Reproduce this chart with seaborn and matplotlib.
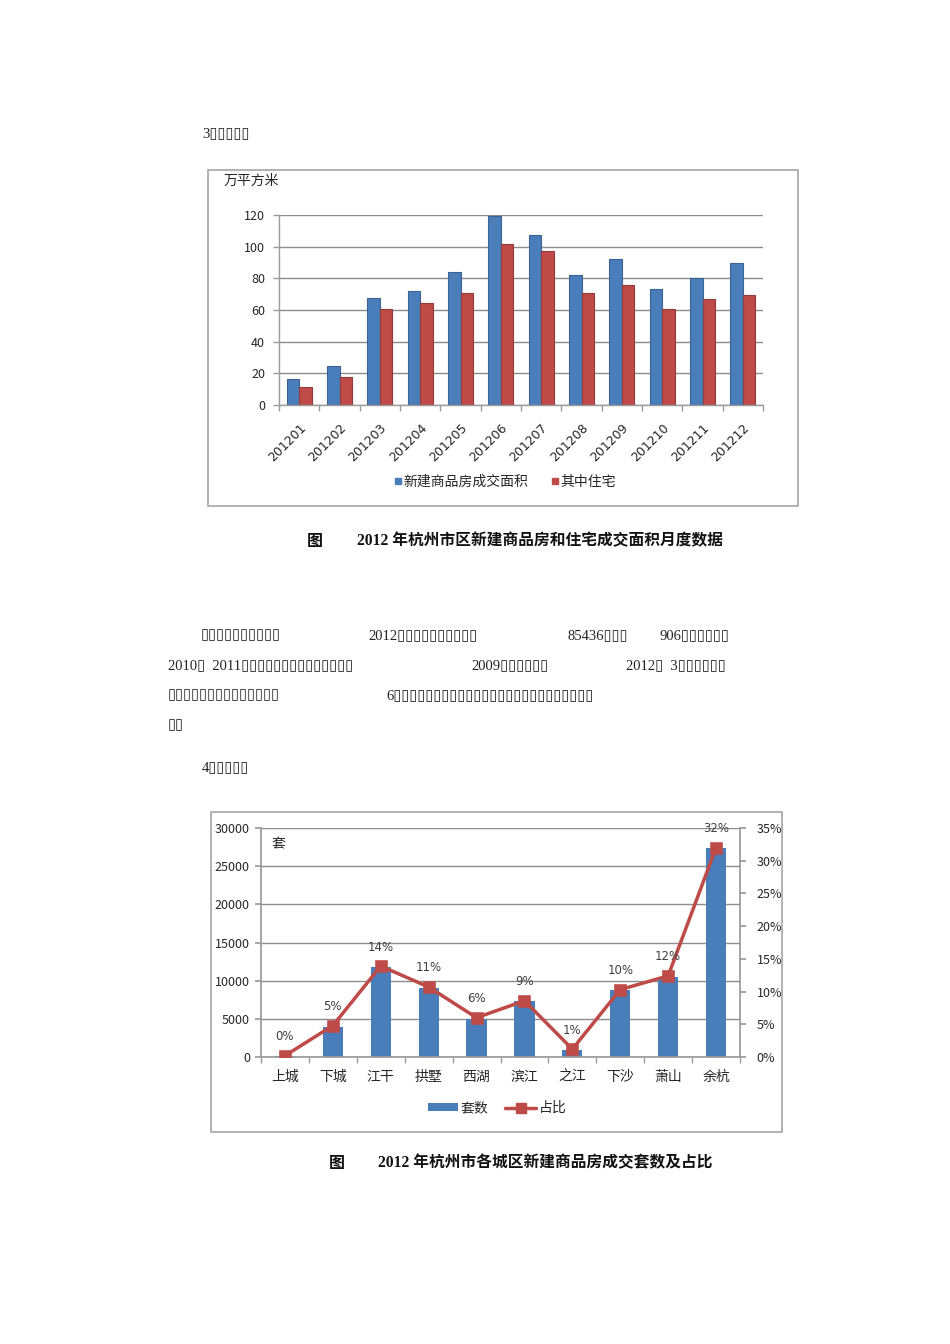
import numpy as np
import pandas as pd
import matplotlib
matplotlib.use('Agg')
import matplotlib.pyplot as plt
import seaborn as sns
from matplotlib.patches import Rectangle, Patch
from matplotlib.lines import Line2D

# ---------------- data ----------------
months = ['201201', '201202', '201203', '201204', '201205', '201206',
          '201207', '201208', '201209', '201210', '201211', '201212']
total_area = [16.5, 24.5, 67.5, 72, 84, 119.5, 107.5, 82, 92, 73, 80, 90]
res_area = [11.5, 17.5, 60.5, 64.5, 70.5, 101.5, 97, 71, 76, 60.5, 67, 69.5]
series_names = ['新建商品房成交面积', '其中住宅']
area_ticks = [0, 20, 40, 60, 80, 100, 120]

districts = ['上城', '下城', '江干', '拱墅', '西湖', '滨江', '之江', '下沙', '萧山', '余杭']
units = [150, 3950, 11800, 9000, 5000, 7300, 900, 8800, 10500, 27400]
share = [0.2, 4.8, 13.9, 10.7, 6.0, 8.6, 1.2, 10.3, 12.4, 32.0]
unit_ticks = [0, 5000, 10000, 15000, 20000, 25000, 30000]
share_ticks = [0, 5, 10, 15, 20, 25, 30, 35]

BLUE = '#4a7ebb'
RED = '#be4b48'
GRID = '#8c8c8c'
TXT = '#262626'

sns.set_theme(style='white')
plt.rcParams['font.family'] = ['Noto Sans CJK SC', 'DejaVu Sans']
plt.rcParams['axes.unicode_minus'] = False

W, H = 950, 1344
fig = plt.figure(figsize=(W / 100, H / 100), dpi=100)
fig.patch.set_facecolor('white')


def px_axes(x0, y0, x1, y1):
    return fig.add_axes([x0 / W, 1 - y1 / H, (x1 - x0) / W, (y1 - y0) / H])


def ftext(x, y, s, **kw):
    kw.setdefault('va', 'center')
    kw.setdefault('ha', 'left')
    return fig.text(x / W, 1 - y / H, s, **kw)


def frame(x0, y0, x1, y1):
    fig.add_artist(Rectangle((x0 / W, 1 - y1 / H), (x1 - x0) / W, (y1 - y0) / H,
                             transform=fig.transFigure, fill=False,
                             ec='#a6a6a6', lw=1.2))


BODY = ['Liberation Serif', 'DejaVu Sans']
CAP = ['Liberation Serif', 'Noto Sans CJK SC']
BFS = 10.5

# ---------------- body text (unrendered glyphs) ----------------
ftext(202, 134, '3▯▯▯▯▯', family=BODY, fontsize=BFS, color='#222')
ftext(201, 636, '▯▯▯▯▯▯▯▯▯▯', family=BODY, fontsize=BFS, color='#222')
ftext(368, 636, '2012▯▯▯▯▯▯▯▯▯▯', family=BODY, fontsize=BFS, color='#222')
ftext(568, 636, '85436▯▯▯', family=BODY, fontsize=BFS, color='#222')
ftext(659, 636, '906▯▯▯▯▯▯', family=BODY, fontsize=BFS, color='#222')
ftext(168, 666, '2010▯  2011▯▯▯▯▯▯▯▯▯▯▯▯▯▯', family=BODY, fontsize=BFS, color='#222')
ftext(471, 666, '2009▯▯▯▯▯▯', family=BODY, fontsize=BFS, color='#222')
ftext(626, 666, '2012▯  3▯▯▯▯▯▯', family=BODY, fontsize=BFS, color='#222')
ftext(168, 696, '▯▯▯▯▯▯▯▯▯▯▯▯▯▯', family=BODY, fontsize=BFS, color='#222')
ftext(386, 696, '6▯▯▯▯▯▯▯▯▯▯▯▯▯▯▯▯▯▯▯▯▯▯▯▯▯', family=BODY, fontsize=BFS, color='#222')
ftext(168, 726, '▯▯', family=BODY, fontsize=BFS, color='#222')
ftext(202, 768, '4▯▯▯▯▯', family=BODY, fontsize=BFS, color='#222')

# ---------------- chart 1 ----------------
frame(208, 170, 798, 506)
ax1 = px_axes(279, 215, 763, 405)
df1 = pd.DataFrame({
    'month': months * 2,
    'value': total_area + res_area,
    'series': [series_names[0]] * len(months) + [series_names[1]] * len(months),
})
sns.barplot(data=df1, x='month', y='value', hue='series', hue_order=series_names,
            palette=[BLUE, RED], width=0.62, saturation=1, ax=ax1, legend=False,
            edgecolor='none')
for bar in ax1.patches:
    fc = bar.get_facecolor()
    bar.set_edgecolor(tuple(c * 0.78 for c in fc[:3]) + (1,))
    bar.set_linewidth(0.8)
ax1.set_ylim(0, 120)
ax1.set_yticks(area_ticks)
ax1.set_xlabel('')
ax1.set_ylabel('')
ax1.yaxis.grid(True, color=GRID, lw=1)
ax1.xaxis.grid(False)
ax1.set_axisbelow(True)
for s in ['top', 'right']:
    ax1.spines[s].set_visible(False)
for s in ['left', 'bottom']:
    ax1.spines[s].set_color('#9a9a9a')
    ax1.spines[s].set_linewidth(1)
ax1.set_facecolor('none')
ax1.tick_params(axis='y', left=True, length=4, width=1, color='#9a9a9a',
                labelsize=9, labelcolor=TXT, pad=6)
ax1.set_xticks(np.arange(len(months)))
ax1.set_xticklabels(months, rotation=45, ha='right', rotation_mode='anchor',
                    fontsize=9, color=TXT, family='DejaVu Sans')
ax1.tick_params(axis='x', bottom=False, pad=6)
ax1.set_xticks(np.arange(len(months) + 1) - 0.5, minor=True)
ax1.tick_params(axis='x', which='minor', bottom=True, length=4, color='#9a9a9a')
ax1.set_xlim(-0.5, len(months) - 0.5)

ftext(224, 181, '万平方米', fontsize=10, color=TXT)

h1 = [Line2D([], [], marker='s', ls='none', color=BLUE, markersize=5),
      Line2D([], [], marker='s', ls='none', color=RED, markersize=5)]
fig.legend(h1, series_names, loc='center', bbox_to_anchor=(505 / W, 1 - 482 / H),
           ncol=2, frameon=False, handlelength=0.6, handletextpad=0.1,
           columnspacing=1.6, fontsize=10, labelcolor=TXT)

ftext(307, 541, '图', fontsize=11.5, fontweight='bold', color='#111')
ftext(357, 541, '2012 年杭州市区新建商品房和住宅成交面积月度数据', family=CAP,
      fontsize=11.3, fontweight='bold', color='#111')

# ---------------- chart 2 ----------------
frame(211, 812, 782, 1132)
ax3 = px_axes(261, 828, 740, 1057)
sns.barplot(x=districts, y=units, color=BLUE, width=0.42, saturation=1, ax=ax3,
            edgecolor='none')
ax3.set_ylim(0, 30000)
ax3.set_yticks(unit_ticks)
ax3.set_yticklabels([str(v) for v in unit_ticks])
ax3.yaxis.grid(True, color=GRID, lw=1)
ax3.xaxis.grid(False)
ax3.set_axisbelow(True)
for s in ['top', 'right']:
    ax3.spines[s].set_visible(False)
for s in ['left', 'bottom']:
    ax3.spines[s].set_color('#9a9a9a')
ax3.tick_params(axis='y', left=True, length=4, color='#9a9a9a', labelsize=9,
                labelcolor=TXT, pad=4)
ax3.tick_params(axis='x', bottom=False, labelsize=10, labelcolor=TXT, pad=3)
ax3.set_xticks(np.arange(len(districts) + 1) - 0.5, minor=True)
ax3.tick_params(axis='x', which='minor', bottom=True, length=4, color='#9a9a9a')

ax4 = ax3.twinx()
sns.pointplot(x=districts, y=share, color=RED, markers='s', markersize=7,
              linewidth=2.5, ax=ax4)
ax4.set_ylim(0, 35)
ax4.set_yticks(share_ticks)
ax4.set_yticklabels([f'{v}%' for v in share_ticks])
ax4.grid(False)
for s in ['top', 'left', 'bottom']:
    ax4.spines[s].set_visible(False)
ax4.spines['right'].set_color('#9a9a9a')
ax4.tick_params(axis='y', right=True, length=4, color='#9a9a9a', labelsize=9,
                labelcolor=TXT, pad=8)
ax4.set_xlim(-0.5, len(districts) - 0.5)
ax3.set_xlim(-0.5, len(districts) - 0.5)
ax4.set_ylabel('')
for i, s in enumerate(share):
    ax4.annotate(f'{s:.0f}%', (i, s), xytext=(0, 9), textcoords='offset points',
                 ha='center', va='bottom', fontsize=8.5, color='#404040',
                 family='DejaVu Sans')

ftext(271, 844, '套', fontsize=10, color=TXT)

h2 = [Patch(facecolor=BLUE, edgecolor='none'),
      Line2D([], [], color=RED, lw=2.5, marker='s', markersize=7)]
fig.legend(h2, ['套数', '占比'], loc='center', bbox_to_anchor=(497 / W, 1 - 1108 / H),
           ncol=2, frameon=False, handlelength=2.2, handleheight=0.5,
           handletextpad=0.2, columnspacing=1.2, fontsize=10, labelcolor=TXT)

ftext(329, 1163, '图', fontsize=11.5, fontweight='bold', color='#111')
ftext(378, 1163, '2012 年杭州市各城区新建商品房成交套数及占比', family=CAP,
      fontsize=11.3, fontweight='bold', color='#111')

fig.savefig('out.png', dpi=100, facecolor='white')
